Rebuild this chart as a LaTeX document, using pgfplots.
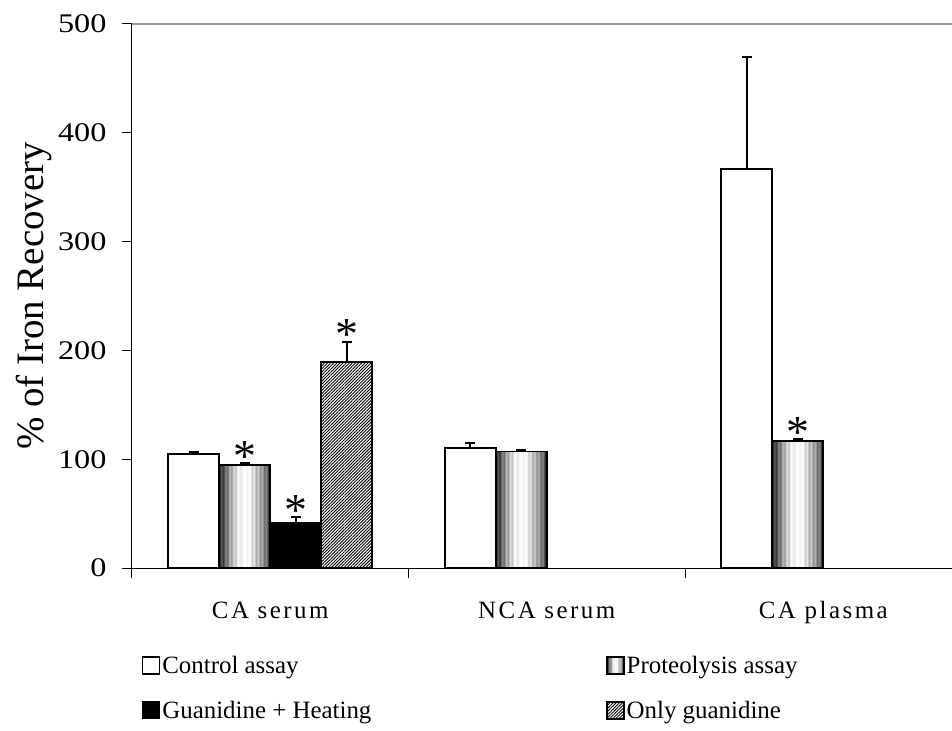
\documentclass[border=0pt]{standalone}
\usepackage{pgfplots}
\pgfplotsset{compat=1.18}
\usepackage{fontspec}
\setmainfont{Liberation Serif}
\newfontfamily\spacedfont[LetterSpace=10]{Liberation Serif}
\newfontfamily\tickfont[FakeStretch=1.2]{Liberation Serif}
\usetikzlibrary{patterns.meta}

\pgfdeclarehorizontalshading{stripes}{100bp}{
color(0bp)=(black!90);
color(25bp)=(black!90);
color(27bp)=(black!65);
color(29bp)=(black!80);
color(31bp)=(black!45);
color(33bp)=(black!60);
color(35bp)=(black!25);
color(37bp)=(black!40);
color(39bp)=(black!12);
color(41bp)=(black!25);
color(43bp)=(white);
color(46bp)=(black!10);
color(49bp)=(white);
color(52bp)=(black!5);
color(55bp)=(white);
color(57bp)=(black!20);
color(59bp)=(black!8);
color(61bp)=(black!35);
color(63bp)=(black!18);
color(65bp)=(black!45);
color(67bp)=(black!30);
color(69bp)=(black!60);
color(71bp)=(black!45);
color(73bp)=(black!80);
color(75bp)=(black!90);
color(100bp)=(black!90)}

\pgfplotstableread{
x y
0 105
1 110
2 367
}\control
\pgfplotstableread{
x y
0 41.5
}\guanheat
\pgfplotstableread{
x y
0 189
}\onlyguan
% error bars: x = category + bar offset, y = bar value, err = + error
\pgfplotstableread{
x y err
-0.2767 105 2
0.7233 110 5
1.7233 367 103
-0.0922 95 1.5
0.9078 107 1.5
1.9078 116.5 2
0.0922 41.5 5
0.2767 189 19
}\errs
\pgfplotstableread{
x y
-0.0922 96.5
0.0922 46.5
0.2767 208
1.9078 118.5
}\stars

\begin{document}
\begin{tikzpicture}
\begin{axis}[
  name=a,
  scale only axis,
  width=820bp, height=544bp,
  xmin=-0.5, xmax=2.4656,
  ymin=0, ymax=500,
  clip=false,
  axis lines*=left,
  axis line style={black, line width=1bp},
  ytick={0,100,200,300,400,500},
  yticklabels={0,100,200,300,400,500},
  tick align=outside,
  major tick length=10bp,
  tick style={black, line width=1bp},
  yticklabel style={font=\tickfont\fontsize{27}{27}\selectfont, xshift=-12bp},
  xtick={-0.5,0.5,1.5},
  xticklabels={},
  extra x ticks={0,1,2},
  extra x tick labels={CA serum, NCA serum, CA plasma},
  extra x tick style={major tick length=0pt, tick label style={font=\spacedfont\fontsize{25}{25}\selectfont, yshift=-30bp}},
  extra y ticks={500},
  extra y tick labels={},
  extra y tick style={grid=major, major grid style={gray!80, line width=1.2bp}},
  ylabel={\% of Iron Recovery},
  ylabel style={font=\fontsize{39}{39}\selectfont, at={(axis description cs:-0.1195,0.5)}, anchor=center},
  legend columns=2,
  legend cell align=left,
  legend style={draw=none, fill=none, inner sep=0pt, at={(0.012,-0.158)}, anchor=north west,
    font=\fontsize{25}{25}\selectfont, row sep=22bp,
    /tikz/every even column/.append style={column sep=233bp}},
  legend image code/.code={\draw[#1, draw=black, line width=1.3bp] (0bp,-8.5bp) rectangle (17bp,8.5bp);},
]
\addplot[ybar, bar width=51bp, bar shift=-76.5bp, draw=black, line width=1.8bp, fill=white]
  table[x=x, y=y] {\control};
\addlegendentry{Control assay}
\addplot[ybar, bar width=51bp, bar shift=-25.5bp, draw=black, line width=1.8bp, shade, shading=stripes]
  coordinates {(0,95)};
\addlegendentry{Proteolysis assay}
\addplot[ybar, bar width=51bp, bar shift=25.5bp, draw=black, line width=1.8bp, fill=black]
  table[x=x, y=y] {\guanheat};
\addlegendentry{Guanidine + Heating}
\addplot[ybar, bar width=51bp, bar shift=76.5bp, draw=black, line width=1.8bp,
  preaction={fill=white}, pattern={Lines[angle=45,distance=2.2bp,line width=0.9bp]}]
  table[x=x, y=y] {\onlyguan};
\addlegendentry{Only guanidine}
\addplot[ybar, bar width=51bp, bar shift=-25.5bp, draw=black, line width=1.8bp, shade, shading=stripes, forget plot]
  coordinates {(1,107)};
\addplot[ybar, bar width=51bp, bar shift=-25.5bp, draw=black, line width=1.8bp, shade, shading=stripes, forget plot]
  coordinates {(2,116.5)};
\addplot[forget plot, draw=none, mark=none,
  error bars/.cd, y dir=plus, y explicit,
  error bar style={draw=black, line width=2bp},
  error mark options={rotate=90, draw=black, mark size=5bp, line width=2bp}]
  table[x=x, y=y, y error=err] {\errs};
\addplot[draw=none, mark=none, forget plot, nodes near coords={*},
  every node near coord/.style={font=\fontsize{46}{46}\selectfont, anchor=base, inner sep=0pt, yshift=-8bp}]
  table[x=x, y=y] {\stars};
\end{axis}
\pgfresetboundingbox
\path[use as bounding box] ([shift={(-132bp,-163bp)}]a.south west) rectangle ([shift={(820bp,568bp)}]a.south west);
\end{tikzpicture}
\end{document}
